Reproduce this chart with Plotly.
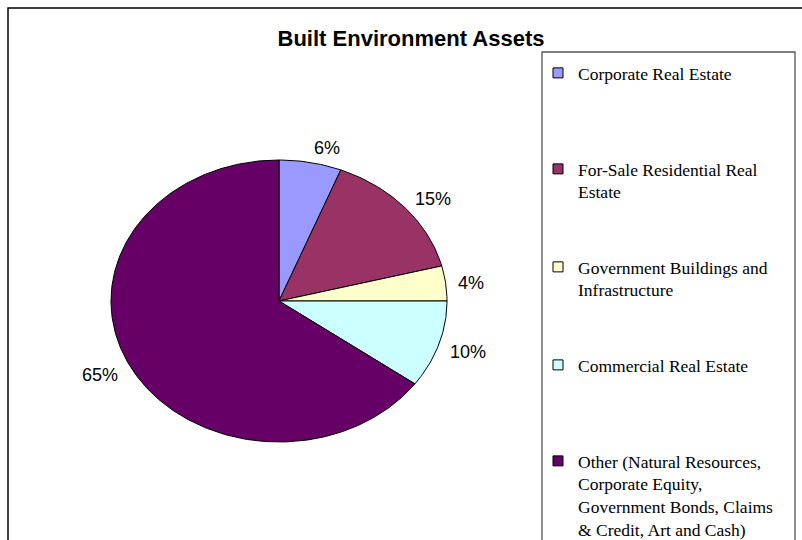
import math
import plotly.graph_objects as go

# ---- data ----
categories = [
    "Corporate Real Estate",
    "For-Sale Residential Real<br>Estate",
    "Government Buildings and<br>Infrastructure",
    "Commercial Real Estate",
    "Other (Natural Resources,<br>Corporate Equity,<br>Government Bonds, Claims<br>& Credit, Art and Cash)",
]
values = [6, 15, 4, 10, 65]
colors = ["#9999FF", "#993366", "#FFFFCC", "#CCFFFF", "#660066"]
title_text = "Built Environment Assets"

# ---- layout / style parameters (pixel space) ----
W, H = 802, 540
CX, CY, RX, RY = 279, 301, 168, 141
LABEL_SCALE_X, LABEL_SCALE_Y = 1.06, 1.12
LEGEND_LEFT, LEGEND_TOP = 542, 52
LEGEND_ROWS_Y = [69, 165, 263, 361, 457]  # legend entry anchors (pixels from top)

fig = go.Figure()

total = float(sum(values))
start = 0.0
annotations = []
for i, (v, c) in enumerate(zip(values, colors)):
    a0 = start / total * 2 * math.pi
    a1 = (start + v) / total * 2 * math.pi
    n = max(8, int(v * 4))
    xs, ys = [CX], [CY]
    for k in range(n + 1):
        t = a0 + (a1 - a0) * k / n
        xs.append(CX + RX * math.sin(t))
        ys.append(CY - RY * math.cos(t))
    xs.append(CX)
    ys.append(CY)
    fig.add_trace(go.Scatter(
        x=xs, y=ys, mode="lines", fill="toself", fillcolor=c,
        line=dict(color="black", width=1), hoverinfo="skip",
        showlegend=False,
    ))
    mid = (a0 + a1) / 2
    lx = CX + RX * LABEL_SCALE_X * math.sin(mid)
    ly = CY - RY * LABEL_SCALE_Y * math.cos(mid)
    annotations.append(dict(
        x=lx, y=ly, xref="x", yref="y", text=f"{v}%", showarrow=False,
        xanchor="left" if math.sin(mid) >= 0 else "right", yanchor="middle",
        yshift=-2,
        font=dict(family="Liberation Sans, Arial", size=18, color="black"),
    ))
    start += v

# legend entries (one legend per entry for Excel-like spacing)
legend_layout = {}
for i, (name, c) in enumerate(zip(categories, colors)):
    key = "legend" if i == 0 else f"legend{i + 1}"
    fig.add_trace(go.Scatter(
        x=[None], y=[None], mode="markers", name=name,
        marker=dict(symbol="square", size=10, color=c,
                    line=dict(color="black", width=1)),
        legend=key, showlegend=True,
    ))
    legend_layout[key] = dict(
        x=(LEGEND_LEFT - 4) / W, xanchor="left",
        y=1 - (LEGEND_ROWS_Y[i] - 14) / H, yanchor="top",
        bgcolor="rgba(0,0,0,0)", borderwidth=0,
        valign="top", itemclick=False, itemdoubleclick=False,
        font=dict(family="Liberation Serif, Times New Roman", size=17.5, color="black"),
    )

shapes = [
    # outer chart frame
    dict(type="rect", xref="paper", yref="paper", x0=8 / W, y0=-0.1, x1=1.1, y1=1 - 8 / H,
         line=dict(color="black", width=1.5), layer="below"),
    # legend box
    dict(type="rect", xref="paper", yref="paper", x0=LEGEND_LEFT / W, y0=-0.1,
         x1=795 / W, y1=1 - LEGEND_TOP / H,
         line=dict(color="#555555", width=1.3), layer="below"),
]

fig.update_layout(
    width=W, height=H,
    margin=dict(l=0, r=0, t=0, b=0, autoexpand=False),
    paper_bgcolor="white", plot_bgcolor="white",
    xaxis=dict(range=[0, W], visible=False, fixedrange=True),
    yaxis=dict(range=[H, 0], visible=False, fixedrange=True),
    title=dict(text=f"<b>{title_text}</b>", x=411 / W, xanchor="center",
               y=1 - 38 / H, yanchor="middle",
               font=dict(family="Liberation Sans, Arial", size=22, color="black")),
    annotations=annotations,
    shapes=shapes,
    showlegend=True,
    **legend_layout,
)

fig.write_html(
    "out.html",
    config={"displayModeBar": False},
    post_script="document.body.style.margin='0';document.body.style.overflow='hidden';",
)
